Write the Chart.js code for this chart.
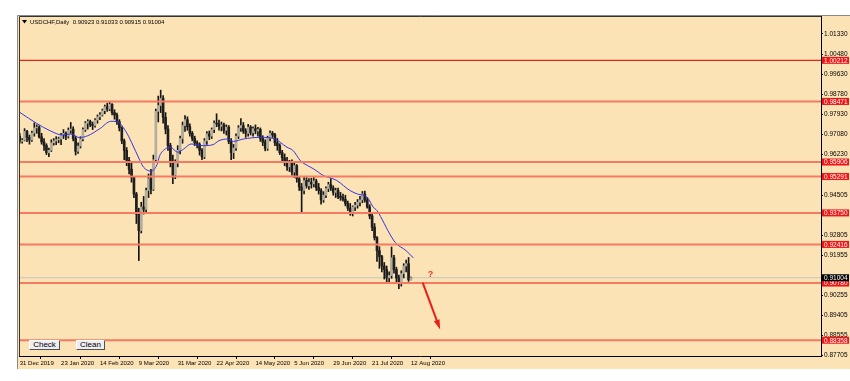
<!DOCTYPE html>
<html>
<head>
<meta charset="utf-8">
<script src="https://cdn.jsdelivr.net/npm/chart.js@4.4.1/dist/chart.umd.min.js"></script>
<style>
  html, body { margin: 0; padding: 0; background: #fff; }
  #wrap { position: relative; width: 850px; height: 381px; }
  #chart { position: absolute; left: 0; top: 0; }
  .btn {
    position: absolute; top: 340px; height: 10px; box-sizing: border-box;
    background: #eeeef2; border: 1px solid; border-color: #fff #505050 #505050 #fff;
    font: 8px/8px "Liberation Sans", Arial, sans-serif; color: #000; text-align: center;
  }
</style>
</head>
<body>
<div id="wrap">
  <canvas id="chart" width="850" height="381"></canvas>
  <div class="btn" style="left:29px;width:31px;">Check</div>
  <div class="btn" style="left:76px;width:29px;">Clean</div>
</div>
<script>
// USDCHF daily, 31 Dec 2019 .. 12 Aug 2020 (bar index = position)
const opens = [
  .9700,.9678,.9683,.9720,.9695,.9684,.9713,.9735,.9738,.9697,.9676,.9660,.9630,.9640,.9672,.9680,.9685,.9688,.9706,.9712,
  .9700,.9725,.9730,.9690,.9636,.9658,.9688,.9728,.9755,.9762,.9750,.9745,.9768,.9782,.9790,.9808,.9825,.9815,.9835,.9800,
  .9790,.9762,.9735,.9680,.9640,.9598,.9560,.9525,.9455,.9370,.9300,.9400,.9390,.9470,.9520,.9475,.9600,.9805,.9830,.9860,
  .9780,.9730,.9660,.9590,.9535,.9585,.9640,.9690,.9745,.9770,.9740,.9712,.9690,.9672,.9665,.9640,.9612,.9680,.9710,.9700,
  .9728,.9755,.9752,.9742,.9748,.9725,.9738,.9678,.9630,.9650,.9700,.9735,.9745,.9722,.9712,.9738,.9715,.9732,.9722,.9728,
  .9690,.9675,.9648,.9692,.9712,.9705,.9672,.9660,.9630,.9608,.9595,.9570,.9588,.9548,.9575,.9520,.9485,.9470,.9512,.9490,
  .9505,.9498,.9510,.9482,.9470,.9430,.9450,.9478,.9495,.9480,.9462,.9470,.9445,.9440,.9432,.9415,.9395,.9380,.9400,.9408,
  .9420,.9430,.9455,.9430,.9400,.9362,.9315,.9270,.9215,.9190,.9150,.9135,.9100,.9110,.9185,.9135,.9100,.9075,.9118,.9150,
  .9160,.90923
];
const highs = [
  .9712,.9690,.9732,.9725,.9705,.9722,.9756,.9748,.9744,.9712,.9690,.9668,.9650,.9685,.9690,.9698,.9696,.9712,.9728,.9718,
  .9735,.9758,.9740,.9700,.9672,.9698,.9735,.9762,.9770,.9768,.9760,.9775,.9790,.9800,.9815,.9832,.9840,.9843,.9838,.9812,
  .9798,.9770,.9740,.9688,.9652,.9610,.9590,.9530,.9462,.9395,.9420,.9445,.9480,.9540,.9560,.9620,.9815,.9870,.9895,.9872,
  .9800,.9745,.9670,.9620,.9600,.9660,.9700,.9760,.9787,.9782,.9752,.9720,.9700,.9680,.9672,.9648,.9690,.9720,.9722,.9735,
  .9765,.9795,.9768,.9760,.9755,.9748,.9745,.9690,.9665,.9710,.9745,.9775,.9758,.9732,.9750,.9745,.9740,.9748,.9738,.9735,
  .9702,.9685,.9700,.9723,.9720,.9712,.9690,.9668,.9640,.9625,.9610,.9598,.9600,.9585,.9580,.9530,.9500,.9525,.9525,.9520,
  .9522,.9525,.9518,.9500,.9478,.9465,.9485,.9505,.9520,.9490,.9480,.9480,.9462,.9455,.9450,.9425,.9415,.9405,.9420,.9432,
  .9445,.9466,.9468,.9440,.9410,.9375,.9330,.9275,.9232,.9195,.9165,.9150,.9125,.9231,.9195,.9145,.9112,.9130,.9160,.9175,
  .9186,.91033
];
const lows = [
  .9670,.9670,.9680,.9677,.9666,.9678,.9700,.9712,.9692,.9666,.9640,.9622,.9613,.9635,.9662,.9664,.9672,.9664,.9690,.9685,
  .9692,.9712,.9680,.9620,.9627,.9650,.9680,.9720,.9730,.9740,.9728,.9738,.9755,.9770,.9785,.9795,.9805,.9808,.9790,.9772,
  .9750,.9722,.9668,.9600,.9575,.9540,.9505,.9440,.9330,.9173,.9290,.9370,.9380,.9440,.9455,.9470,.9590,.9760,.9800,.9755,
  .9710,.9640,.9570,.9499,.9520,.9570,.9625,.9670,.9720,.9725,.9700,.9680,.9660,.9650,.9620,.9600,.9605,.9665,.9685,.9690,
  .9715,.9740,.9725,.9722,.9712,.9705,.9668,.9600,.9605,.9640,.9690,.9720,.9712,.9695,.9700,.9705,.9700,.9710,.9700,.9678,
  .9660,.9638,.9640,.9680,.9695,.9660,.9640,.9622,.9590,.9575,.9555,.9550,.9535,.9525,.9505,.9470,.9372,.9455,.9480,.9475,
  .9480,.9485,.9470,.9455,.9412,.9420,.9440,.9465,.9470,.9450,.9440,.9435,.9428,.9425,.9405,.9385,.9365,.9362,.9385,.9395,
  .9405,.9418,.9420,.9395,.9350,.9300,.9260,.9170,.9140,.9125,.9095,.9080,.9075,.9098,.9120,.9075,.9054,.9065,.9100,.9125,
  .9085,.90915
];
const closes = [
  .9678,.9683,.9720,.9695,.9684,.9713,.9735,.9738,.9697,.9676,.9660,.9630,.9640,.9672,.9680,.9685,.9688,.9706,.9712,.9700,
  .9725,.9730,.9690,.9636,.9658,.9688,.9728,.9755,.9762,.9750,.9745,.9768,.9782,.9790,.9808,.9825,.9815,.9835,.9800,.9790,
  .9762,.9735,.9680,.9640,.9598,.9560,.9525,.9455,.9370,.9300,.9400,.9390,.9470,.9520,.9475,.9600,.9805,.9830,.9860,.9780,
  .9730,.9660,.9590,.9535,.9585,.9640,.9690,.9745,.9770,.9740,.9712,.9690,.9672,.9665,.9640,.9612,.9680,.9710,.9700,.9728,
  .9755,.9752,.9742,.9748,.9725,.9738,.9678,.9630,.9650,.9700,.9735,.9745,.9722,.9712,.9738,.9715,.9732,.9722,.9728,.9690,
  .9675,.9648,.9692,.9712,.9705,.9672,.9660,.9630,.9608,.9595,.9570,.9588,.9548,.9575,.9520,.9485,.9470,.9512,.9490,.9505,
  .9498,.9510,.9482,.9470,.9430,.9450,.9478,.9495,.9480,.9462,.9470,.9445,.9440,.9432,.9415,.9395,.9380,.9400,.9408,.9420,
  .9430,.9455,.9430,.9400,.9362,.9315,.9270,.9215,.9190,.9150,.9135,.9100,.9110,.9185,.9135,.9100,.9075,.9118,.9150,.9160,
  .9092,.91004
];

// blue moving average (bar index, price)
const maIdx  = [0, 7, 12.5, 17.5, 21, 24.5, 28, 33, 37.5, 40, 43.5, 46, 49.5, 51, 54, 56.5, 57.5, 60, 62, 65, 67.5, 70.5, 75.5, 79.5,
                82, 85.5, 88, 92, 99, 104.5, 110, 112.5, 115.5, 118.5, 121, 125, 129, 130.5, 136, 139, 143, 145.5, 147, 150, 151.5, 154.5, 159, 162];
const maVals = [.9801, .9754, .9723, .9705, .9709, .9694, .9702, .9732, .9763, .9762, .9723, .9674, .9596, .9568, .9552, .9580, .9615, .9647, .9653, .9632, .9646, .9667, .9660, .9664,
                .9681, .9688, .9678, .9688, .9695, .9690, .9653, .9639, .9596, .9575, .9561, .9533, .9519, .9512, .9469, .9455, .9441, .9399, .9385, .9330, .9300, .9250, .9215, .9184];

const tickIdx  = [0, 17, 33, 49, 65, 81, 97, 113, 129, 145, 161];
const tickText = ['31 Dec 2019', '23 Jan 2020', '14 Feb 2020', '9 Mar 2020', '31 Mar 2020', '22 Apr 2020',
                  '14 May 2020', '5 Jun 2020', '29 Jun 2020', '21 Jul 2020', '12 Aug 2020'];
const yTicks = [1.01330, 1.00480, 0.99630, 0.98780, 0.97930, 0.97080, 0.96230, 0.94505, 0.92805, 0.91955, 0.90255, 0.89405, 0.88555, 0.87705];

// horizontal levels drawn by hand in the terminal
const levels = [1.00212, 0.98471, 0.95906, 0.95291, 0.93750, 0.92416, 0.90780, 0.88358];
const lastPrice = 0.91004;
const header = 'USDCHF,Daily  0.90923 0.91033 0.90915 0.91004';

// annotation anchors (bar index, price)
const arrowFrom = [165.8, 0.9080];
const arrowTo   = [173.0, 0.8881];
const qMark     = [169.0, 0.9112];

const xMin = -0.3, xMax = 329.7;
const yMin = 0.8769, yMax = 1.0209;
const FONT = '"Liberation Sans", Arial, sans-serif';

const wicks  = highs.map((h, i) => ({ x: i, y: [lows[i], h] }));
const bodies = opens.map((o, i) => ({ x: i, y: [o, closes[i]] }));
const bodyColors = opens.map((o, i) => closes[i] >= o ? '#b2ad9c' : '#1e1e1e');

const levelSets = levels.map((v, i) => ({
  type: 'line',
  data: [{ x: xMin, y: v }, { x: xMax, y: v }],
  borderColor: i === 0 ? '#e3261c' : '#f47a62',
  borderWidth: i === 0 ? 1.3 : 2,
  pointRadius: 0,
  order: 0
}));

// frame, labels on the price axis, header, arrow
const mtPlugin = {
  id: 'mt',
  beforeDraw(chart) {
    const ctx = chart.ctx;
    ctx.save();
    ctx.fillStyle = '#fff';
    ctx.fillRect(0, 0, 850, 381);
    ctx.fillStyle = '#fce3b5';
    ctx.fillRect(17, 15, 833, 354);
    ctx.strokeStyle = '#8a8a8a';
    ctx.lineWidth = 1;
    ctx.beginPath();
    ctx.moveTo(17.5, 369); ctx.lineTo(17.5, 15.5); ctx.lineTo(850, 15.5);
    ctx.stroke();
    ctx.restore();
  },
  afterDraw(chart) {
    const ctx = chart.ctx, ca = chart.chartArea;
    const xs = chart.scales.x, ys = chart.scales.y;
    ctx.save();
    // top + left frame
    ctx.strokeStyle = '#333';
    ctx.lineWidth = 1;
    ctx.beginPath();
    ctx.moveTo(ca.left + 0.5, ca.bottom); ctx.lineTo(ca.left + 0.5, ca.top + 0.5); ctx.lineTo(ca.right, ca.top + 0.5);
    ctx.stroke();

    // header
    ctx.fillStyle = '#000';
    ctx.beginPath();
    ctx.moveTo(22, 20); ctx.lineTo(27, 20); ctx.lineTo(24.5, 23.5); ctx.closePath();
    ctx.fill();
    ctx.font = '6px ' + FONT;
    ctx.textBaseline = 'middle';
    ctx.fillText(header, 30, 22);

    // axis boxes
    ctx.font = '6.5px ' + FONT;
    levels.forEach(v => {
      const y = ys.getPixelForValue(v);
      ctx.fillStyle = '#f01414';
      ctx.fillRect(ca.right + 1, y - 3.5, 27, 7);
      ctx.fillStyle = '#fff';
      ctx.fillText(v.toFixed(5), ca.right + 3, y + 0.5);
    });
    const py = ys.getPixelForValue(lastPrice);
    ctx.fillStyle = '#000';
    ctx.fillRect(ca.right + 1, py - 3.5, 27, 7);
    ctx.fillStyle = '#fff';
    ctx.fillText(lastPrice.toFixed(5), ca.right + 3, py + 0.5);

    // question mark
    ctx.fillStyle = '#e8352a';
    ctx.font = 'bold 9px ' + FONT;
    ctx.textAlign = 'center';
    ctx.fillText('?', xs.getPixelForValue(qMark[0]), ys.getPixelForValue(qMark[1]));

    // arrow
    const x1 = xs.getPixelForValue(arrowFrom[0]), y1 = ys.getPixelForValue(arrowFrom[1]);
    const x2 = xs.getPixelForValue(arrowTo[0]), y2 = ys.getPixelForValue(arrowTo[1]);
    const ang = Math.atan2(y2 - y1, x2 - x1);
    ctx.strokeStyle = '#ea1f17';
    ctx.fillStyle = '#ea1f17';
    ctx.lineWidth = 2;
    ctx.beginPath();
    ctx.moveTo(x1, y1);
    ctx.lineTo(x2 - 6 * Math.cos(ang), y2 - 6 * Math.sin(ang));
    ctx.stroke();
    ctx.beginPath();
    ctx.moveTo(x2, y2);
    ctx.lineTo(x2 - 10 * Math.cos(ang) + 3 * Math.sin(ang), y2 - 10 * Math.sin(ang) - 3 * Math.cos(ang));
    ctx.lineTo(x2 - 10 * Math.cos(ang) - 3 * Math.sin(ang), y2 - 10 * Math.sin(ang) + 3 * Math.cos(ang));
    ctx.closePath();
    ctx.fill();
    ctx.restore();
  }
};

new Chart(document.getElementById('chart'), {
  type: 'bar',
  data: {
    datasets: [
      ...levelSets,
      {
        type: 'line',
        data: [{ x: xMin, y: lastPrice }, { x: xMax, y: lastPrice }],
        borderColor: '#c4c4c4', borderWidth: 1, pointRadius: 0, order: 5
      },
      {
        type: 'line',
        data: maIdx.map((x, i) => ({ x: x, y: maVals[i] })),
        borderColor: '#3434e4', borderWidth: 1, pointRadius: 0,
        cubicInterpolationMode: 'monotone', order: 1
      },
      {
        data: bodies, backgroundColor: bodyColors, barThickness: 2,
        grouped: false, borderWidth: 0, order: 2
      },
      {
        data: wicks, backgroundColor: '#151515', barThickness: 1,
        grouped: false, borderWidth: 0, order: 3
      }
    ]
  },
  options: {
    responsive: false,
    animation: false,
    devicePixelRatio: 1,
    layout: { padding: { left: 19, top: 16, right: 0, bottom: 0 } },
    plugins: { legend: { display: false }, tooltip: { enabled: false } },
    scales: {
      x: {
        type: 'linear', min: xMin, max: xMax, offset: false, position: 'bottom',
        afterBuildTicks: s => { s.ticks = tickIdx.map(v => ({ value: v })); },
        afterFit: s => { s.height = 25; },
        grid: { drawOnChartArea: false, drawTicks: true, tickLength: 3, color: '#000' },
        border: { display: true, color: '#000' },
        ticks: {
          autoSkip: false, maxRotation: 0, minRotation: 0, align: 'start', padding: 1,
          color: '#000', font: { family: FONT, size: 6 },
          callback: (v, i) => tickText[i]
        }
      },
      y: {
        type: 'linear', position: 'right', min: yMin, max: yMax,
        afterBuildTicks: s => { s.ticks = yTicks.map(v => ({ value: v })); },
        afterFit: s => { s.width = 29; },
        grid: { drawOnChartArea: false, drawTicks: true, tickLength: 2, color: '#000' },
        border: { display: true, color: '#000' },
        ticks: {
          padding: 1, color: '#000', font: { family: FONT, size: 6.5 },
          callback: v => Number(v).toFixed(5)
        }
      }
    }
  },
  plugins: [mtPlugin]
});
</script>
</body>
</html>
